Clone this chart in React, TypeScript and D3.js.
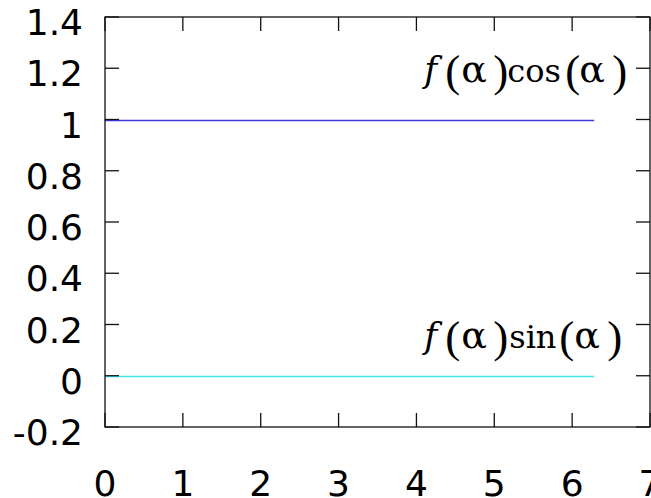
import React from "react";
import * as d3 from "d3";

// series: f(a)cos(a) and f(a)sin(a) sampled over 0..2pi
const alphaVals = [0, 1, 2, 3, 4, 5, 6, 6.283];
const cosSeries = [1, 1, 1, 1, 1, 1, 1, 1];
const sinSeries = [0, 0, 0, 0, 0, 0, 0, 0];

const xTicks = [0, 1, 2, 3, 4, 5, 6, 7];
const yTicks = [-0.2, 0, 0.2, 0.4, 0.6, 0.8, 1, 1.2, 1.4];
const yTickLabels = ["-0.2", "0", "0.2", "0.4", "0.6", "0.8", "1", "1.2", "1.4"];

// label pieces: [offset from label start, text, kind]
const cosLabel = [
  [0, "f", "it"],
  [21, "(", "par"],
  [37, "α", "gr"],
  [69, ")", "par"],
  [83, "cos", "rm"],
  [141, "(", "par"],
  [155, "α", "gr"],
  [188, ")", "par"],
];
const sinLabel = [
  [0, "f", "it"],
  [21, "(", "par"],
  [37, "α", "gr"],
  [69, ")", "par"],
  [85, "sin", "rm"],
  [135, "(", "par"],
  [150, "α", "gr"],
  [183, ")", "par"],
];

const W = 651;
const H = 498;
const margin = { left: 105, right: 1, top: 17, bottom: 71 };

const fontFor = {
  it: { family: "DejaVu Serif", size: 35, style: "italic" },
  par: { family: "Liberation Serif", size: 45, style: "normal" },
  gr: { family: "DejaVu Serif", size: 38, style: "normal" },
  rm: { family: "DejaVu Serif", size: 32, style: "normal" },
};

const Label = ({ x, y, pieces }) => (
  <g>
    {pieces.map(([dx, t, kind], i) => (
      <text
        key={i}
        x={x + dx}
        y={kind === "par" ? y + 4 : y}
        fontFamily={fontFor[kind].family}
        fontStyle={fontFor[kind].style}
        fontSize={fontFor[kind].size}
        fill="#000"
      >
        {t}
      </text>
    ))}
  </g>
);

export default function App() {
  const x = d3.scaleLinear().domain([0, 7]).range([margin.left, W - margin.right]);
  const y = d3.scaleLinear().domain([-0.2, 1.4]).range([H - margin.bottom, margin.top]);

  const line = d3
    .line<number>()
    .x((_, i) => x(alphaVals[i]))
    .y((d) => Math.round(y(d)) + 0.5);

  const x0 = x(0);
  const x1 = x(7);
  const y0 = y(-0.2);
  const y1 = y(1.4);
  const tick = 14;

  return (
    <svg
      width={W}
      height={H}
      style={{ position: "absolute", left: 0, top: 0, background: "#fff" }}
    >
      <rect x={0} y={0} width={W} height={H} fill="#fff" />

      <path d={line(cosSeries) ?? ""} fill="none" stroke="#3a3ae0" strokeWidth={1.5} />
      <path d={line(sinSeries) ?? ""} fill="none" stroke="#40e8e8" strokeWidth={1.5} />

      {/* frame */}
      <rect x={x0} y={y1} width={x1 - x0} height={y0 - y1} fill="none" stroke="#111" strokeWidth={1.3} />

      {/* y ticks, mirrored */}
      {yTicks.map((t, i) => (
        <g key={`y${t}`}>
          <line x1={x0} x2={x0 + tick} y1={y(t)} y2={y(t)} stroke="#111" strokeWidth={1.3} />
          <line x1={x1 - tick} x2={x1} y1={y(t)} y2={y(t)} stroke="#111" strokeWidth={1.3} />
          <text
            x={x0 - 22}
            y={y(t) + 18}
            textAnchor="end"
            fontFamily="DejaVu Sans"
            fontSize={36}
            fill="#000"
          >
            {yTickLabels[i]}
          </text>
        </g>
      ))}

      {/* x ticks, mirrored */}
      {xTicks.map((t) => (
        <g key={`x${t}`}>
          <line x1={x(t)} x2={x(t)} y1={y0} y2={y0 - tick} stroke="#111" strokeWidth={1.3} />
          <line x1={x(t)} x2={x(t)} y1={y1} y2={y1 + tick} stroke="#111" strokeWidth={1.3} />
          <text
            x={x(t)}
            y={y0 + 69}
            textAnchor="middle"
            fontFamily="DejaVu Sans"
            fontSize={36}
            fill="#000"
          >
            {t}
          </text>
        </g>
      ))}

      <Label x={x(4.1)} y={y(1.147)} pieces={cosLabel} />
      <Label x={x(4.1)} y={y(0.11)} pieces={sinLabel} />
    </svg>
  );
}
